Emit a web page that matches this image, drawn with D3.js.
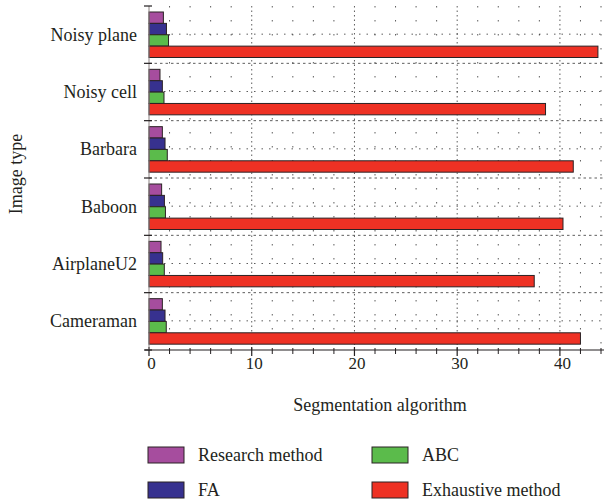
<!DOCTYPE html>
<html>
<head>
<meta charset="utf-8">
<script src="https://cdn.jsdelivr.net/npm/d3@7"></script>
<style>
  body { margin: 0; background: #fff; }
  text { font-family: "Liberation Serif", "DejaVu Serif", serif; fill: #231f20; }
</style>
</head>
<body>
<svg width="604" height="502"></svg>
<script>
// Data
let images = ['Noisy plane', 'Noisy cell', 'Barbara', 'Baboon', 'AirplaneU2', 'Cameraman']
let methods = ['Research method', 'FA', 'ABC', 'Exhaustive method']
let research = [1.4, 1.07, 1.3, 1.23, 1.17, 1.3]
let fa = [1.7, 1.3, 1.56, 1.5, 1.33, 1.56]
let abc = [1.9, 1.46, 1.78, 1.6, 1.49, 1.68]
let exhaustive = [43.7, 38.6, 41.3, 40.3, 37.5, 42.0]
let xTicks = [0, 10, 20, 30, 40]
let colors = ['#a64d9e', '#37318f', '#5bbb4b', '#ee3124']

let seriesValues = [research, fa, abc, exhaustive]
let rows = images.map((name, i) => ({
    name: name,
    values: methods.map((m, j) => ({ method: m, value: seriesValues[j][i] }))
}))

let svg = d3.select('svg')
let plot = { left: 149, right: 601, top: 6, bottom: 350 }
let fontSize = 18

let scale = {
    x: d3.scaleLinear().domain([0, 44]).range([plot.left, plot.right]),
    y: d3.scaleBand().domain(images).range([plot.top, plot.bottom]),
    inner: d3.scaleBand().domain(methods).range([6, 51.5])
}
let color = d3.scaleOrdinal().domain(methods).range(colors)

// Grid
let grid = svg.append('g').attr('stroke', '#333').attr('fill', 'none')
d3.range(2, 45, 2).forEach(v => {
    let major = v % 10 === 0
    grid.append('line')
        .attr('x1', scale.x(v)).attr('x2', scale.x(v))
        .attr('y1', plot.top).attr('y2', plot.bottom)
        .attr('stroke-width', 0.8)
        .attr('stroke-dasharray', major ? '1.5,3' : '1.5,12.5')
})
images.forEach((d, i) => {
    let y0 = scale.y(d)
    if (i > 0) {
        grid.append('line')
            .attr('x1', plot.left).attr('x2', 604)
            .attr('y1', y0).attr('y2', y0)
            .attr('stroke-width', 0.8)
            .attr('stroke-dasharray', '2.5,3')
    }
    let ym = y0 + scale.y.bandwidth() / 2 - 0.5
    grid.append('line')
        .attr('x1', plot.left).attr('x2', 604)
        .attr('y1', ym).attr('y2', ym)
        .attr('stroke-width', 0.8)
        .attr('stroke-dasharray', '1.5,6')
})

// Bars
let groups = svg.selectAll('g.row')
    .data(rows)
    .join('g')
    .attr('class', 'row')
    .attr('transform', d => `translate(0,${scale.y(d.name)})`)

groups.selectAll('rect')
    .data(d => d.values)
    .join('rect')
    .attr('x', scale.x(0))
    .attr('y', d => scale.inner(d.method))
    .attr('width', d => scale.x(d.value) - scale.x(0))
    .attr('height', scale.inner.bandwidth())
    .attr('fill', d => color(d.method))
    .attr('stroke', '#2b2224')
    .attr('stroke-width', 1)

// X axis
let xAxis = svg.append('g').attr('transform', `translate(0,${plot.bottom})`)
xAxis.append('line')
    .attr('x1', plot.left - 4).attr('x2', 604)
    .attr('stroke', '#231f20').attr('stroke-width', 1.2)
xAxis.selectAll('line.minor')
    .data(d3.range(0, 45, 2))
    .join('line')
    .attr('class', 'minor')
    .attr('x1', d => scale.x(d)).attr('x2', d => scale.x(d))
    .attr('y1', d => d % 10 === 0 ? -3 : -2)
    .attr('y2', d => d % 10 === 0 ? 6 : 4)
    .attr('stroke', '#231f20').attr('stroke-width', d => d % 10 === 0 ? 1.2 : 1)
xAxis.selectAll('text')
    .data(xTicks)
    .join('text')
    .attr('x', d => scale.x(d) + 2.5)
    .attr('y', 19)
    .attr('text-anchor', 'middle')
    .attr('font-size', 17)
    .text(d => d)

// Y axis
let yAxis = svg.append('g')
yAxis.append('line')
    .attr('x1', plot.left).attr('x2', plot.left)
    .attr('y1', plot.top).attr('y2', plot.bottom)
    .attr('stroke', '#8a8080').attr('stroke-width', 1)
yAxis.selectAll('line.tick')
    .data(images.concat(['end']))
    .join('line')
    .attr('class', 'tick')
    .attr('x1', plot.left - 5).attr('x2', plot.left + 3)
    .attr('y1', (d, i) => plot.top + i * scale.y.bandwidth())
    .attr('y2', (d, i) => plot.top + i * scale.y.bandwidth())
    .attr('stroke', '#231f20').attr('stroke-width', 1.2)
yAxis.selectAll('text')
    .data(images)
    .join('text')
    .attr('x', plot.left - 12)
    .attr('y', d => scale.y(d) + scale.y.bandwidth() / 2 + 6)
    .attr('text-anchor', 'end')
    .attr('font-size', fontSize)
    .text(d => d)

// Axis titles
svg.append('text')
    .attr('x', 380).attr('y', 411)
    .attr('text-anchor', 'middle')
    .attr('font-size', fontSize)
    .text('Segmentation algorithm')
svg.append('text')
    .attr('transform', 'translate(22,174) rotate(-90)')
    .attr('text-anchor', 'middle')
    .attr('font-size', fontSize)
    .text('Image type')

// Legend
let legendPos = [[148, 447], [372, 447], [148, 482], [372, 482]]
let legendOrder = ['Research method', 'ABC', 'FA', 'Exhaustive method']
let legend = svg.selectAll('g.legend')
    .data(legendOrder)
    .join('g')
    .attr('class', 'legend')
    .attr('transform', (d, i) => `translate(${legendPos[i][0]},${legendPos[i][1]})`)
legend.append('rect')
    .attr('width', 36).attr('height', 16)
    .attr('fill', d => color(d))
    .attr('stroke', '#2b2224').attr('stroke-width', 1)
legend.append('text')
    .attr('x', 50).attr('y', 14)
    .attr('font-size', fontSize)
    .text(d => d)
</script>
</body>
</html>
